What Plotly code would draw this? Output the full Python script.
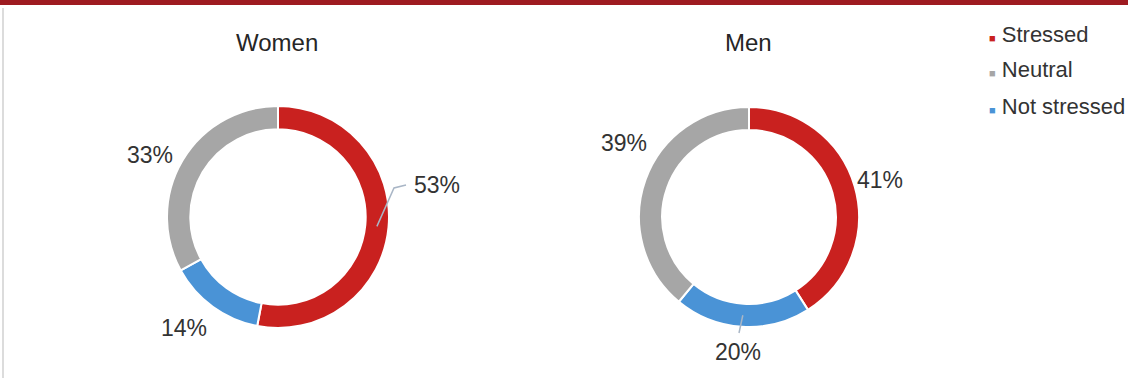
import math
import plotly.graph_objects as go

# Stress levels by gender (share of respondents, %)
categories = ["Stressed", "Not stressed", "Neutral"]
women_values = [53, 14, 33]
men_values = [41, 20, 39]
panel_titles = ["Women", "Men"]
legend_order = ["Stressed", "Neutral", "Not stressed"]

W, H = 1128, 378
COLORS = {"Stressed": "#c9211f", "Neutral": "#a6a6a6", "Not stressed": "#4a93d6"}
TEXT = "#333333"
FONT = "Liberation Sans, Arial, sans-serif"

# Donut geometry in pixels: centre x, centre y, outer radius
panels = [
    {"cx": 278, "cy": 217, "r": 111, "values": women_values,
     "labels": {"Stressed": (437, 185), "Not stressed": (184, 328), "Neutral": (150, 155)},
     "leaders": {"Stressed": [(394, 188), (406, 185)]}},
    {"cx": 749, "cy": 217, "r": 110, "values": men_values,
     "labels": {"Stressed": (880, 180), "Not stressed": (738, 352), "Neutral": (624, 143)},
     "leaders": {"Not stressed": [(739, 333)]}},
]
HOLE = 0.79


def px(x):
    return x / W


def py(y):
    return 1 - y / H


fig = go.Figure()
annotations = []
shapes = []

for panel, title in zip(panels, panel_titles):
    cx, cy, r = panel["cx"], panel["cy"], panel["r"]
    fig.add_trace(go.Pie(
        labels=categories,
        values=panel["values"],
        sort=False,
        direction="clockwise",
        rotation=0,
        hole=HOLE,
        marker=dict(colors=[COLORS[c] for c in categories],
                    line=dict(color="white", width=2)),
        textinfo="none",
        hoverinfo="label+percent",
        showlegend=False,
        domain=dict(x=[px(cx - r), px(cx + r)], y=[py(cy + r), py(cy - r)]),
    ))
    annotations.append(dict(
        x=px(cx - 1), y=py(42), xref="paper", yref="paper", text=title,
        showarrow=False, font=dict(family=FONT, size=24, color="#262626"),
        xanchor="center", yanchor="middle"))

    total = sum(panel["values"])
    start = 0.0
    for cat, val in zip(categories, panel["values"]):
        mid = (start + val / 2) / total * 2 * math.pi
        start += val
        lx, ly = panel["labels"][cat]
        annotations.append(dict(
            x=px(lx), y=py(ly), xref="paper", yref="paper",
            text=f"{round(val / total * 100)}%", showarrow=False,
            font=dict(family=FONT, size=23, color=TEXT),
            xanchor="center", yanchor="middle"))
        if cat in panel["leaders"]:
            # leader line from the middle of the ring segment to the label
            rm = r * (1 + HOLE) / 2
            pts = [(cx + rm * math.sin(mid), cy - rm * math.cos(mid))] + panel["leaders"][cat]
            path = "M " + " L ".join(f"{px(x)},{py(y)}" for x, y in pts)
            shapes.append(dict(type="path", path=path, xref="paper", yref="paper",
                               line=dict(color="#a9b6c6", width=1.5)))

# Legend: small coloured squares followed by category names
for i, name in enumerate(legend_order):
    annotations.append(dict(
        x=px(987), y=py(34 + 36 * i), xref="paper", yref="paper",
        text=f'<span style="color:{COLORS[name]};font-size:11px">■</span> {name}',
        showarrow=False, font=dict(family=FONT, size=22, color=TEXT),
        xanchor="left", yanchor="middle"))

# Header rule and left border
shapes.append(dict(type="rect", xref="paper", yref="paper",
                   x0=0, x1=1, y0=py(5), y1=1, fillcolor="#9e1b21", line=dict(width=0)))
shapes.append(dict(type="line", xref="paper", yref="paper",
                   x0=px(3), x1=px(3), y0=0, y1=py(8), line=dict(color="#d0d0d0", width=1.5)))

fig.update_layout(
    width=W, height=H,
    margin=dict(l=0, r=0, t=0, b=0),
    paper_bgcolor="white", plot_bgcolor="white",
    annotations=annotations, shapes=shapes,
)

fig.write_html("out.html")
